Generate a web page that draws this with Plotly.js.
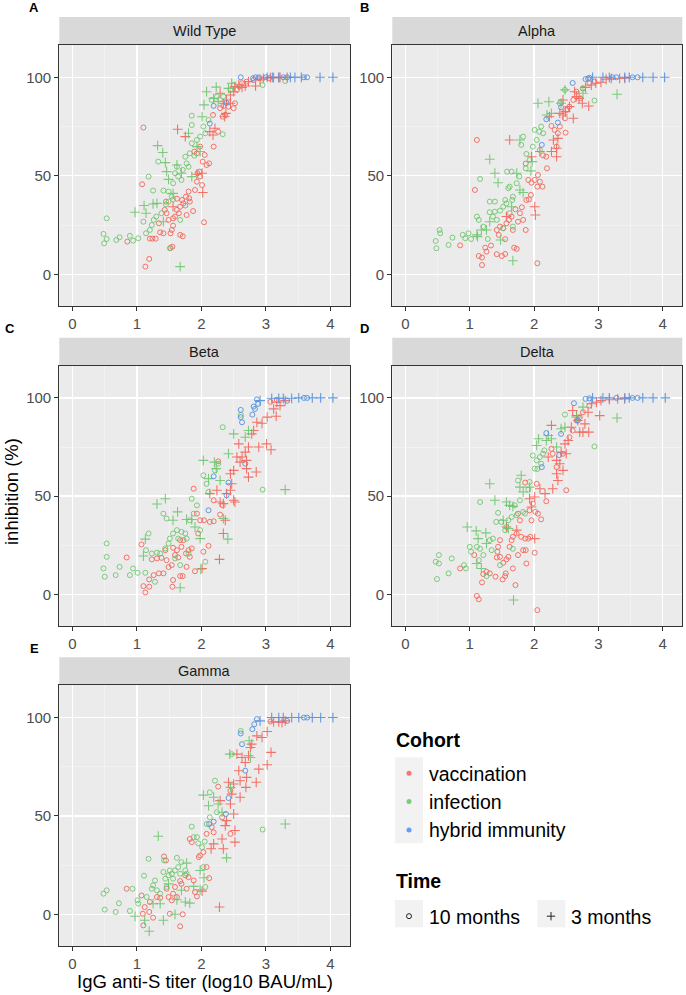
<!DOCTYPE html>
<html><head><meta charset="utf-8">
<script src="https://cdn.plot.ly/plotly-3.0.1.min.js"></script>
<style>html,body{margin:0;padding:0;background:#fff}#chart{width:686px;height:995px}</style>
</head><body><div id="chart"></div>
<script>
// ---------- categories / labels ----------
const variants = ["Wild Type", "Alpha", "Beta", "Delta", "Gamma"];
const panelLetters = ["A", "B", "C", "D", "E"];
const cohorts = ["vaccination", "infection", "hybrid immunity"];
const times = ["10 months", "3 months"];
const xTicks = [0, 1, 2, 3, 4];
const yTicks = [0, 50, 100];

// ---------- data: [log10 titer, inhibition %] ----------
// Wild Type
const wt_vac10 = [[1.10,74.5],[1.08,45.7],[0.85,16.6],[1.19,7.8],[1.13,3.9],[1.20,18.1],[1.24,18.1],[1.29,18.1],[1.36,21.3],[1.41,20.8],[1.34,25.9],[1.43,32.7],[1.46,31.0],[1.45,36.9],[1.52,20.8],[1.54,22.5],[1.55,14.0],[1.52,13.4],[1.67,20.0],[1.71,19.3],[1.56,28.4],[1.59,29.3],[1.62,32.7],[1.65,31.0],[1.70,37.7],[1.72,36.0],[1.76,39.4],[1.80,42.0],[1.81,38.6],[1.82,36.9],[1.87,32.1],[1.90,42.8],[1.93,47.0],[1.94,51.3],[1.97,52.1],[1.98,49.6],[2.01,45.3],[2.04,26.4],[2.02,57.2],[2.05,60.6],[2.08,55.5],[2.12,56.3],[1.89,62.3],[1.93,61.4],[1.98,64.8],[2.19,64.8],[2.18,80.9],[2.26,72.4],[2.33,80.0],[2.37,80.9],[2.29,84.3],[2.34,85.4],[2.42,85.1],[2.50,84.3],[2.52,86.8],[2.55,93.6],[2.59,95.3],[2.63,97.0],[2.70,97.8],[2.81,98.6],[1.75,34.9],[1.67,34.3],[1.62,38.4],[1.49,27.6],[1.56,24.7],[1.77,30.1],[2.90,99.5],[3.05,99.6]];
const wt_vac3 = [[1.63,73.6],[2.18,70.7],[2.02,41.5],[2.01,51.3],[2.13,72.4],[2.21,74.1],[2.29,91.9],[2.34,86.8],[2.39,88.5],[2.45,91.0],[2.50,92.7],[2.52,95.3],[2.58,96.1],[2.63,94.9],[2.68,95.6],[2.73,97.8],[2.84,95.6],[2.91,98.6],[2.96,99.5],[3.07,99.8],[3.12,99.8],[3.20,99.8],[3.22,100],[3.33,100],[2.36,80.0],[2.38,81.7],[2.45,86.8],[1.75,69.9],[1.56,34.3],[1.93,50.8]];
const wt_inf10 = [[0.53,28.4],[0.48,20.5],[0.53,17.9],[0.49,15.7],[0.68,17.4],[0.73,18.8],[0.89,19.5],[0.94,17.1],[1.02,18.3],[1.18,49.6],[1.25,42.5],[1.33,57.2],[1.41,42.5],[1.10,26.7],[1.14,20.8],[1.20,22.5],[1.23,25.0],[1.26,27.6],[1.30,29.3],[1.38,31.0],[1.45,35.5],[1.49,42.0],[1.54,39.4],[1.56,46.2],[1.59,51.3],[1.64,49.6],[1.69,47.9],[1.71,53.0],[1.75,59.7],[1.77,56.3],[1.82,61.4],[1.85,66.5],[1.85,80.5],[1.85,75.8],[1.93,68.2],[1.98,69.9],[2.03,75.0],[2.06,71.6],[2.11,78.3],[2.16,88.5],[2.24,90.2],[2.33,71.1],[2.34,90.2],[2.45,93.6],[2.50,96.1],[2.95,96.1],[1.67,27.6],[1.51,13.2],[1.80,54.6],[1.89,60.2],[1.56,38.0],[1.49,36.9],[1.62,54.6],[3.30,98.1]];
const wt_inf3 = [[0.97,31.5],[1.11,34.9],[1.25,35.7],[1.32,65.3],[1.40,61.8],[1.44,56.7],[1.46,52.1],[1.49,48.2],[1.62,55.5],[1.69,51.3],[1.80,71.6],[1.85,49.6],[1.93,64.8],[1.98,62.3],[2.01,80.0],[2.04,86.0],[2.08,92.7],[2.19,89.3],[2.23,95.0],[2.26,87.8],[2.42,94.4],[2.47,97.0],[1.67,3.9],[1.41,26.7],[1.56,41.1],[1.14,31.0],[1.31,36.0]];
const wt_hyb10 = [[2.61,100],[2.84,100],[2.89,100],[3.27,100],[3.33,100],[3.59,100],[3.64,100],[2.19,85.5],[2.13,76.5],[2.39,87.0],[2.80,99.5],[3.00,100]];
const wt_hyb3 = [[3.02,100],[3.10,100],[3.20,100],[3.38,100],[3.45,100],[3.55,100],[3.84,100],[4.04,100]];
// Alpha
const al_vac10 = [[1.11,68.2],[1.08,42.8],[0.85,14.7],[1.14,9.3],[1.19,8.5],[1.19,4.7],[1.24,13.5],[1.26,11.5],[1.33,14.6],[1.42,10.2],[1.50,9.3],[1.55,10.3],[1.42,22.5],[1.47,24.2],[1.45,20.0],[1.52,23.4],[1.55,17.8],[1.57,25.9],[1.61,27.6],[1.65,29.3],[1.67,22.5],[1.69,13.5],[1.73,12.9],[1.71,33.0],[1.75,26.7],[1.78,31.0],[1.81,34.0],[1.83,27.6],[1.87,22.5],[1.88,37.7],[1.92,38.0],[1.95,40.3],[1.91,47.9],[1.96,46.5],[2.01,47.9],[2.05,44.5],[2.09,47.0],[2.13,44.5],[2.06,50.4],[2.20,53.8],[2.05,5.6],[1.87,56.2],[2.14,60.4],[2.27,75.3],[2.32,73.3],[2.37,71.6],[2.40,75.0],[2.48,79.2],[2.49,71.9],[2.50,83.4],[2.55,85.1],[2.61,88.5],[2.66,92.7],[2.72,89.3],[2.76,94.4],[2.86,97.0],[2.94,97.8],[2.35,64.8],[2.19,59.7]];
const al_vac3 = [[1.62,68.2],[1.96,59.7],[2.01,34.3],[2.02,30.1],[2.09,62.3],[2.27,62.3],[2.30,68.2],[2.35,64.0],[2.37,69.0],[2.24,80.0],[2.40,81.7],[2.45,80.9],[2.49,82.6],[2.55,85.1],[2.61,79.2],[2.63,92.7],[2.66,90.2],[2.70,89.3],[2.75,86.8],[2.85,85.4],[2.80,94.9],[2.89,96.1],[2.96,97.0],[3.04,97.5],[3.12,99.0],[3.20,99.5],[3.33,99.5],[3.41,99.5],[1.57,29.3],[2.45,88.5],[2.35,59.7]];
const al_inf10 = [[0.47,16.9],[0.48,13.2],[0.53,22.5],[0.54,20.8],[0.67,14.9],[0.73,18.6],[0.89,20.0],[0.93,18.3],[0.98,20.8],[1.02,17.9],[1.16,48.4],[1.11,29.3],[1.14,27.6],[1.21,24.2],[1.28,17.9],[1.31,36.9],[1.39,36.9],[1.31,31.5],[1.36,29.3],[1.42,27.6],[1.39,31.8],[1.47,32.3],[1.52,34.3],[1.55,37.7],[1.57,36.0],[1.60,43.7],[1.62,44.5],[1.66,37.7],[1.67,39.4],[1.58,52.1],[1.65,52.1],[1.73,46.2],[1.77,49.6],[1.80,65.7],[1.83,69.9],[1.87,53.8],[1.88,61.1],[1.93,58.0],[1.98,64.8],[2.01,73.3],[2.04,68.2],[2.08,72.4],[2.11,75.0],[2.14,71.6],[2.09,63.1],[1.52,23.4],[1.67,24.2],[1.62,31.0],[2.48,93.6],[2.76,94.4],[2.94,88.2],[2.40,86.8],[2.42,87.6]];
const al_inf3 = [[1.31,58.4],[1.39,51.3],[1.44,46.5],[1.12,19.1],[1.18,22.5],[1.26,22.5],[1.11,20.0],[1.48,17.4],[1.67,6.9],[1.73,51.3],[1.78,42.8],[1.83,41.5],[1.95,52.5],[1.97,57.2],[2.06,86.8],[2.23,87.6],[2.20,80.9],[2.27,81.7],[2.48,93.6],[2.76,91.9],[3.29,91.4],[1.78,68.2],[1.31,26.7],[1.65,34.3],[2.42,86.8]];
const al_hyb10 = [[2.60,97.1],[2.80,99.1],[2.86,99.8],[2.19,78.7],[2.12,65.7],[2.42,84.8],[2.37,77.0],[3.53,100],[3.61,100],[3.28,100],[3.22,100],[2.84,99.3]];
const al_hyb3 = [[2.91,100],[3.07,100],[3.17,100],[3.41,100],[3.48,100],[3.69,100],[3.85,100],[4.03,100]];
// Beta
const be_vac10 = [[0.84,18.8],[1.07,25.4],[1.10,4.2],[1.13,1.0],[1.19,3.9],[1.19,7.6],[1.26,9.8],[1.34,10.7],[1.41,10.7],[1.23,17.8],[1.31,18.3],[1.38,18.6],[1.44,22.5],[1.46,17.4],[1.49,13.9],[1.54,14.9],[1.56,7.3],[1.55,3.9],[1.59,20.0],[1.62,22.5],[1.64,18.8],[1.67,9.3],[1.71,9.3],[1.69,24.2],[1.72,27.6],[1.76,20.8],[1.80,22.5],[1.82,19.1],[1.85,23.4],[1.90,11.8],[1.88,53.8],[1.93,41.1],[1.98,37.7],[1.95,31.0],[2.03,21.7],[2.04,37.7],[2.11,24.7],[2.13,36.9],[2.19,37.2],[2.19,47.9],[2.26,67.7],[2.29,40.6],[2.33,45.3],[1.67,27.6],[1.56,23.7],[1.77,14.0],[3.07,98.0],[3.17,99.0]];
const be_vac3 = [[2.01,13.2],[2.28,17.8],[2.34,31.0],[2.37,37.7],[2.29,47.0],[2.34,46.2],[2.39,51.3],[2.45,53.0],[2.47,56.3],[2.50,47.9],[2.52,47.0],[2.45,61.4],[2.50,63.1],[2.55,69.9],[2.60,67.3],[2.58,76.6],[2.63,69.9],[2.68,72.4],[2.70,68.2],[2.73,75.0],[2.70,64.0],[2.73,59.7],[2.85,62.3],[2.78,81.7],[2.81,83.4],[2.86,87.6],[2.94,87.1],[3.02,90.2],[3.16,90.7],[3.01,76.6],[3.08,73.6],[2.89,75.0],[3.12,94.4],[3.22,96.1],[3.17,97.8],[2.24,53.0],[2.13,51.3],[3.30,98.6]];
const be_inf10 = [[0.53,25.9],[0.53,19.1],[0.48,13.2],[0.50,9.0],[0.67,9.8],[0.73,14.0],[0.89,9.8],[0.94,13.2],[1.01,11.0],[1.13,11.0],[1.18,31.0],[1.14,22.5],[1.23,20.8],[1.28,6.4],[1.31,21.2],[1.36,20.8],[1.41,41.1],[1.46,38.6],[1.44,23.4],[1.49,25.9],[1.51,28.4],[1.56,31.0],[1.62,32.7],[1.64,28.4],[1.69,31.8],[1.75,31.0],[1.77,28.4],[1.80,20.8],[1.82,37.7],[1.85,48.7],[1.88,41.1],[1.93,45.3],[1.98,32.7],[2.06,16.6],[2.08,56.3],[2.11,52.1],[2.03,60.6],[2.21,63.1],[2.26,66.5],[2.33,85.1],[2.61,91.4],[2.95,53.3],[1.67,14.9],[1.59,18.3]];
const be_inf3 = [[1.31,46.0],[1.44,48.7],[1.63,42.0],[1.13,28.1],[1.10,19.5],[1.67,3.4],[1.77,38.1],[1.85,38.1],[1.90,34.3],[1.98,28.4],[2.03,68.2],[2.11,58.9],[2.20,67.3],[2.23,64.0],[2.29,58.0],[2.34,38.6],[2.41,28.1],[2.42,71.6],[2.50,81.7],[2.68,80.0],[2.73,83.4],[3.30,53.3],[1.56,37.7],[1.99,12.8]];
const be_hyb10 = [[2.86,99.2],[2.81,95.6],[2.83,94.4],[2.61,93.9],[2.63,87.6],[2.61,90.2],[2.79,91.5],[2.19,60.1],[2.68,66.5],[2.39,50.4],[2.42,56.9],[2.11,42.8],[3.33,98.6],[3.59,100],[3.64,100],[2.88,97.0]];
const be_hyb3 = [[2.91,98.6],[3.09,99.8],[3.20,99.8],[3.27,99.8],[3.40,99.8],[3.51,100],[3.72,100],[3.85,100],[4.04,100]];
// Delta
const de_vac10 = [[0.85,13.2],[1.07,20.0],[1.11,-0.8],[1.14,-2.5],[1.19,6.1],[1.21,10.3],[1.26,11.5],[1.31,10.7],[1.40,9.0],[1.51,7.6],[1.55,9.3],[1.56,10.7],[1.47,19.1],[1.43,21.7],[1.42,18.8],[1.44,24.2],[1.47,27.6],[1.52,16.1],[1.57,17.8],[1.60,19.1],[1.62,24.2],[1.65,27.6],[1.67,29.3],[1.67,13.2],[1.71,4.7],[1.73,31.0],[1.75,20.0],[1.80,29.3],[1.83,22.5],[1.87,22.5],[1.88,15.7],[1.86,28.4],[1.91,28.4],[1.94,29.3],[2.01,21.2],[1.96,37.7],[2.02,42.0],[2.06,41.1],[2.11,38.2],[2.19,47.4],[2.05,-8.0],[1.86,56.9],[1.93,42.8],[1.98,46.2],[2.04,56.3],[2.27,74.1],[2.29,71.6],[2.35,64.8],[2.45,71.6],[2.50,53.0],[2.55,80.0],[2.60,83.4],[2.66,88.5],[2.71,90.2],[2.76,92.7],[2.86,96.1],[1.75,41.1],[1.78,37.7]];
const de_vac3 = [[1.57,34.3],[1.73,32.7],[2.01,28.4],[1.93,48.7],[1.96,44.5],[2.01,49.6],[2.09,53.8],[2.17,51.3],[2.22,69.9],[2.27,86.0],[2.29,53.8],[2.35,61.4],[2.37,58.0],[2.35,68.2],[2.40,66.5],[2.42,72.4],[2.45,63.1],[2.50,71.6],[2.48,76.6],[2.53,78.3],[2.58,85.1],[2.60,93.6],[2.66,91.0],[2.68,88.5],[2.71,82.6],[2.76,82.6],[2.85,82.6],[2.79,86.8],[2.84,92.7],[2.89,97.0],[2.97,97.8],[3.02,91.0],[3.04,98.6],[3.17,99.1],[3.30,99.5],[3.41,99.5]];
const de_inf10 = [[0.47,16.6],[0.52,15.7],[0.52,20.0],[0.49,7.8],[0.67,10.7],[0.72,18.3],[0.91,14.9],[0.94,13.2],[1.00,24.2],[1.02,21.7],[1.16,47.0],[1.11,24.2],[1.14,17.4],[1.16,23.2],[1.21,20.0],[1.26,9.3],[1.31,27.6],[1.34,22.5],[1.36,28.4],[1.41,36.9],[1.44,41.5],[1.47,14.9],[1.49,36.9],[1.55,32.7],[1.57,34.3],[1.60,37.7],[1.65,39.4],[1.70,45.3],[1.73,40.3],[1.78,47.9],[1.83,42.0],[1.86,41.1],[1.91,53.3],[1.93,57.2],[1.98,70.7],[2.04,68.2],[2.09,69.9],[2.11,66.5],[2.14,71.6],[2.01,64.0],[2.05,63.8],[2.16,73.3],[2.48,91.5],[2.94,75.3],[1.67,23.2],[1.75,58.0]];
const de_inf3 = [[1.31,56.3],[1.39,47.9],[0.96,34.3],[1.10,32.3],[1.25,31.3],[1.13,28.4],[1.26,25.9],[1.11,15.7],[1.18,13.2],[1.57,47.0],[1.62,45.3],[1.67,44.8],[1.52,37.7],[1.60,33.5],[1.68,-2.9],[1.80,60.6],[1.78,54.6],[1.83,52.1],[1.93,54.6],[2.04,75.8],[2.07,79.2],[2.19,78.3],[2.22,80.9],[2.27,79.2],[2.35,75.0],[2.42,84.3],[2.48,85.1],[2.66,90.2],[2.76,95.3],[3.29,89.8]];
const de_hyb10 = [[2.62,97.3],[2.80,99.5],[2.86,99.8],[2.19,82.1],[2.12,64.8],[2.39,70.9],[2.42,81.7],[2.68,88.5],[3.53,100],[3.61,100],[3.28,100]];
const de_hyb3 = [[2.91,100],[3.07,100],[3.17,100],[3.41,100],[3.48,100],[3.69,100],[3.85,100],[4.04,100]];
// Gamma
const ga_vac10 = [[0.84,13.0],[1.07,9.6],[1.09,0.3],[1.10,-5.6],[1.12,3.7],[1.19,1.2],[1.20,6.3],[1.25,-1.7],[1.31,8.8],[1.36,8.4],[1.42,29.4],[1.45,27.4],[1.46,13.0],[1.49,8.8],[1.51,0.3],[1.54,7.1],[1.56,10.5],[1.59,13.9],[1.62,8.8],[1.67,16.9],[1.69,15.5],[1.67,-6.1],[1.71,0.0],[1.75,19.8],[1.77,13.0],[1.80,18.9],[1.82,38.3],[1.85,36.7],[1.88,17.2],[1.90,11.3],[1.93,9.1],[1.96,29.1],[1.98,29.9],[2.03,31.6],[2.08,24.0],[2.12,18.4],[2.08,40.9],[2.19,41.7],[2.16,44.3],[2.26,64.9],[2.32,49.3],[2.45,40.9],[2.45,62.8],[3.07,98.0]];
const ga_vac3 = [[2.01,11.8],[2.28,3.7],[2.15,33.3],[2.19,35.8],[2.32,38.3],[2.34,33.3],[2.37,45.1],[2.39,47.6],[2.45,56.1],[2.47,61.1],[2.50,51.0],[2.52,42.6],[2.52,36.7],[2.29,57.8],[2.42,67.1],[2.50,66.2],[2.55,81.4],[2.58,73.0],[2.60,67.9],[2.63,79.7],[2.68,77.2],[2.70,69.6],[2.69,64.5],[2.73,80.6],[2.76,84.8],[2.78,86.5],[2.86,90.7],[2.94,89.9],[3.02,92.9],[3.08,82.3],[3.02,76.0],[2.89,73.8],[2.85,67.1],[3.12,97.8],[3.20,97.8],[3.25,97.5],[3.30,98.3],[2.60,59.5]];
const ga_inf10 = [[0.48,10.5],[0.53,12.2],[0.50,2.4],[0.67,1.2],[0.72,5.6],[0.89,1.7],[0.93,13.0],[1.01,7.1],[1.02,5.4],[1.11,19.6],[1.15,8.8],[1.18,28.2],[1.23,13.0],[1.25,14.7],[1.28,17.2],[1.31,12.2],[1.36,10.5],[1.41,21.5],[1.42,27.4],[1.44,18.1],[1.46,13.9],[1.49,19.8],[1.51,22.3],[1.54,20.6],[1.56,18.1],[1.59,22.3],[1.62,28.7],[1.64,24.0],[1.67,20.6],[1.69,26.5],[1.75,22.3],[1.77,20.6],[1.85,44.6],[1.88,39.2],[1.93,39.2],[1.95,36.1],[2.01,34.1],[2.05,37.0],[2.08,45.9],[2.13,49.3],[2.13,62.0],[2.21,67.9],[2.24,51.9],[2.03,24.0],[2.06,13.9],[2.61,93.2],[2.47,81.4],[2.95,43.1]];
const ga_inf3 = [[1.33,39.7],[0.97,-1.0],[1.12,-3.0],[1.19,-8.6],[1.41,-3.0],[1.25,5.4],[1.36,5.4],[1.62,7.4],[1.59,0.0],[1.75,6.3],[1.82,5.7],[1.77,26.0],[1.88,14.2],[1.98,12.5],[2.03,60.6],[2.11,55.2],[2.19,59.5],[2.26,56.1],[2.32,51.9],[1.98,22.3],[2.04,18.6],[2.39,28.7],[2.45,64.5],[2.44,81.4],[2.76,79.7],[2.74,88.2],[3.30,45.9],[1.69,12.2],[1.49,15.5]];
const ga_hyb10 = [[2.86,99.2],[2.82,96.6],[2.79,94.1],[2.61,91.9],[2.63,86.5],[2.68,73.0],[2.42,59.1],[2.38,51.0],[2.19,47.1],[2.12,45.9],[3.33,98.3],[3.59,100],[3.64,100]];
const ga_hyb3 = [[2.91,98.3],[3.09,100],[3.20,100],[3.27,100],[3.40,100],[3.51,100],[3.72,100],[3.85,100],[4.04,100]];

const panelSeries = [
  [[wt_vac10, wt_vac3], [wt_inf10, wt_inf3], [wt_hyb10, wt_hyb3]],
  [[al_vac10, al_vac3], [al_inf10, al_inf3], [al_hyb10, al_hyb3]],
  [[be_vac10, be_vac3], [be_inf10, be_inf3], [be_hyb10, be_hyb3]],
  [[de_vac10, de_vac3], [de_inf10, de_inf3], [de_hyb10, de_hyb3]],
  [[ga_vac10, ga_vac3], [ga_inf10, ga_inf3], [ga_hyb10, ga_hyb3]]
];

// ---------- styling ----------
const W = 686, H = 995;
const FONT = "Liberation Sans, Arial, Helvetica, sans-serif";
const cohortColors = ["rgba(243,108,96,0.95)", "rgba(104,196,104,0.85)", "rgba(88,148,222,0.95)"];
const legendDotColors = ["#F8766D", "#7CCB7C", "#619CFF"];
// panel pixel boxes
const colPx = [[59.3, 350], [392.3, 682.3]];
const rowPx = [[45, 306], [365.7, 626], [685.3, 946]];
const stripH = 28;
const xRange = [-0.205, 4.305];
const yRange = [-16.1, 116.4];

const px2x = v => v / W;
const px2y = v => 1 - v / H;

const traces = [];
const layout = {
  width: W, height: H,
  margin: {l: 0, r: 0, t: 0, b: 0},
  paper_bgcolor: "#ffffff",
  plot_bgcolor: "#EBEBEB",
  font: {family: FONT, color: "#000"},
  showlegend: true,
  shapes: [], annotations: []
};

variants.forEach((name, p) => {
  const col = p % 2, row = Math.floor(p / 2);
  const xs = p === 0 ? "" : String(p + 1);
  const xa = "xaxis" + xs, ya = "yaxis" + xs;
  const [xl, xr] = colPx[col];
  const [yt, yb] = rowPx[row];
  const common = {
    ticks: "outside", ticklen: 4, tickwidth: 1, tickcolor: "#333333",
    showline: true, mirror: true, linecolor: "#333333", linewidth: 1.1,
    showgrid: true, gridcolor: "#FFFFFF", gridwidth: 1.3, zeroline: false,
    tickfont: {family: FONT, size: 15, color: "#4D4D4D"},
    fixedrange: true
  };
  layout[xa] = Object.assign({}, common, {
    domain: [px2x(xl), px2x(xr)], range: xRange, tickvals: xTicks,
    ticktext: xTicks.map(String), anchor: "y" + xs,
    minor: {tickvals: [0.5, 1.5, 2.5, 3.5], showgrid: true, gridcolor: "#F6F6F6", gridwidth: 0.6, ticks: ""}
  });
  layout[ya] = Object.assign({}, common, {
    domain: [px2y(yb), px2y(yt)], range: yRange, tickvals: yTicks,
    ticktext: yTicks.map(String), anchor: "x" + xs,
    minor: {tickvals: [25, 75], showgrid: true, gridcolor: "#F6F6F6", gridwidth: 0.6, ticks: ""}
  });
  // strip
  layout.shapes.push({type: "rect", xref: "paper", yref: "paper",
    x0: px2x(xl), x1: px2x(xr), y0: px2y(yt), y1: px2y(yt - stripH),
    fillcolor: "#D9D9D9", line: {width: 0}, layer: "below"});
  layout.annotations.push({xref: "paper", yref: "paper", x: px2x((xl + xr) / 2), y: px2y(yt - stripH / 2),
    text: name, showarrow: false, xanchor: "center", yanchor: "middle",
    font: {family: FONT, size: 14.5, color: "#1A1A1A"}});
  // series
  cohorts.forEach((coh, c) => {
    times.forEach((tm, t) => {
      const pts = panelSeries[p][c][t];
      traces.push({
        type: "scatter", mode: "markers",
        x: pts.map(d => d[0]), y: pts.map(d => d[1]),
        xaxis: "x" + xs, yaxis: "y" + xs,
        name: coh + " / " + tm, showlegend: false, hoverinfo: "skip",
        marker: t === 0
          ? {symbol: "circle-open", size: 5, color: cohortColors[c], line: {width: 1, color: cohortColors[c]}}
          : {symbol: "cross-thin-open", size: 7, color: cohortColors[c], line: {width: 1.1, color: cohortColors[c]}}
      });
    });
  });
});

// panel letters
const letterPos = [[33.5, 8], [364, 8], [10, 328], [364, 328], [34, 648]];
panelLetters.forEach((L, i) => {
  layout.annotations.push({xref: "paper", yref: "paper", x: px2x(letterPos[i][0]), y: px2y(letterPos[i][1]),
    text: "<b>" + L + "</b>", showarrow: false, xanchor: "center", yanchor: "middle",
    font: {family: FONT, size: 13, color: "#000"}});
});

// axis titles
layout.annotations.push({xref: "paper", yref: "paper", x: px2x(12), y: px2y(492),
  text: "inhibition (%)", textangle: -90, showarrow: false, xanchor: "center", yanchor: "middle",
  font: {family: FONT, size: 18.5, color: "#000"}});
layout.annotations.push({xref: "paper", yref: "paper", x: px2x(205), y: px2y(981),
  text: "IgG anti-S titer (log10 BAU/mL)", showarrow: false, xanchor: "center", yanchor: "middle",
  font: {family: FONT, size: 18.5, color: "#000"}});

// legend titles
layout.annotations.push({xref: "paper", yref: "paper", x: px2x(394), y: px2y(739.5),
  text: "<b>Cohort</b>", showarrow: false, xanchor: "left", yanchor: "middle",
  font: {family: FONT, size: 19.5, color: "#000"}});
layout.annotations.push({xref: "paper", yref: "paper", x: px2x(394), y: px2y(881),
  text: "<b>Time</b>", showarrow: false, xanchor: "left", yanchor: "middle",
  font: {family: FONT, size: 19.5, color: "#000"}});

// legend key backgrounds
const keyFill = "#F2F2F2";
layout.shapes.push({type: "rect", xref: "paper", yref: "paper", x0: px2x(395), x1: px2x(423), y0: px2y(843.3), y1: px2y(757.3), fillcolor: keyFill, line: {width: 0}});
layout.shapes.push({type: "rect", xref: "paper", yref: "paper", x0: px2x(395), x1: px2x(423), y0: px2y(927.3), y1: px2y(900), fillcolor: keyFill, line: {width: 0}});
layout.shapes.push({type: "rect", xref: "paper", yref: "paper", x0: px2x(537.3), x1: px2x(565.3), y0: px2y(927.3), y1: px2y(900), fillcolor: keyFill, line: {width: 0}});

// legend entries (no data)
cohorts.forEach((coh, c) => {
  traces.push({type: "scatter", mode: "markers", x: [null], y: [null], name: coh, legend: "legend",
    marker: {symbol: "circle", size: 5, color: legendDotColors[c]}, hoverinfo: "skip"});
});
times.forEach((tm, t) => {
  traces.push({type: "scatter", mode: "markers", x: [null], y: [null], name: tm, legend: "legend2",
    marker: t === 0 ? {symbol: "circle-open", size: 5, color: "#222", line: {width: 1, color: "#222"}}
                    : {symbol: "cross-thin-open", size: 6, color: "#222", line: {width: 1, color: "#222"}},
    hoverinfo: "skip"});
});

layout.legend = {x: px2x(389), y: px2y(754), xanchor: "left", yanchor: "top",
  bgcolor: "rgba(0,0,0,0)", font: {family: FONT, size: 19.5, color: "#000"},
  tracegroupgap: 0, itemclick: false, itemdoubleclick: false};
layout.legend2 = {x: px2x(389), y: px2y(897), xanchor: "left", yanchor: "top", orientation: "h",
  bgcolor: "rgba(0,0,0,0)", font: {family: FONT, size: 19.5, color: "#000"},
  entrywidth: 97, entrywidthmode: "pixels",
  itemclick: false, itemdoubleclick: false};

Plotly.newPlot("chart", traces, layout, {staticPlot: true, displayModeBar: false});
</script>
</body></html>
